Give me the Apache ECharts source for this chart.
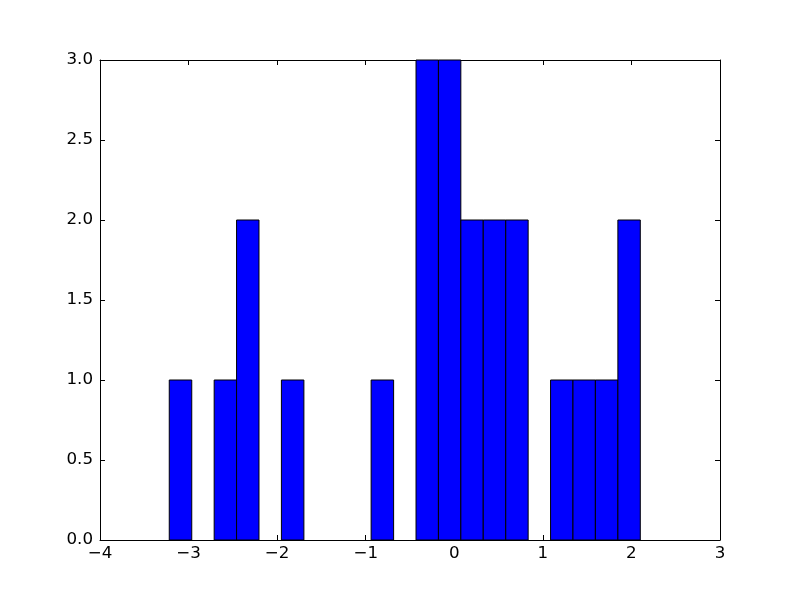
<!DOCTYPE html>
<html>
<head>
<meta charset="utf-8">
<script src="https://cdn.jsdelivr.net/npm/echarts@6/dist/echarts.min.js"></script>
<style>
html,body{margin:0;padding:0;background:#fff;}
#c{width:800px;height:600px;}
</style>
</head>
<body>
<div id="c"></div>
<script>
// Histogram bin edges (21 bins)
const binEdges = [-3.218, -2.964, -2.711, -2.458, -2.205, -1.952, -1.698, -1.445, -1.192, -0.939, -0.685,
                  -0.432, -0.179, 0.074, 0.327, 0.581, 0.834, 1.087, 1.340, 1.593, 1.847, 2.100];
// Counts per bin
const counts = [1, 0, 1, 2, 0, 1, 0, 0, 0, 1, 0, 3, 3, 2, 2, 2, 0, 1, 1, 1, 2];
// Axis ranges / ticks
const xTicks = [-4, -3, -2, -1, 0, 1, 2, 3];
const yTicks = [0.0, 0.5, 1.0, 1.5, 2.0, 2.5, 3.0];

const data = counts.map((c, i) => [binEdges[i], binEdges[i + 1], c]);

const font = 'DejaVu Sans';
const fs = 16.7;
const fmtX = v => String(v).replace('-', '\u2212');
const fmtY = v => v.toFixed(1);

const common = {
  axisLine: { show: true, onZero: false, lineStyle: { color: '#000', width: 1 } },
  axisTick: { show: true, inside: true, length: 5, lineStyle: { color: '#000', width: 1 } },
  splitLine: { show: false }
};

const chart = echarts.init(document.getElementById('c'), null, { renderer: 'canvas' });
chart.setOption({
  animation: false,
  backgroundColor: '#fff',
  grid: { left: 100, right: 80, top: 60, bottom: 60, containLabel: false },
  xAxis: [
    Object.assign({
      type: 'value', position: 'bottom',
      min: xTicks[0], max: xTicks[xTicks.length - 1], interval: 1,
      axisLabel: { show: true, color: '#000', fontFamily: font, fontSize: fs, margin: 5, formatter: fmtX }
    }, common),
    Object.assign({
      type: 'value', position: 'top',
      min: xTicks[0], max: xTicks[xTicks.length - 1], interval: 1,
      axisLabel: { show: false }
    }, common)
  ],
  yAxis: [
    Object.assign({
      type: 'value', position: 'left',
      min: yTicks[0], max: yTicks[yTicks.length - 1], interval: 0.5,
      axisLabel: { show: true, color: '#000', fontFamily: font, fontSize: fs, margin: 7, formatter: fmtY }
    }, common),
    Object.assign({
      type: 'value', position: 'right',
      min: yTicks[0], max: yTicks[yTicks.length - 1], interval: 0.5,
      axisLabel: { show: false }
    }, common)
  ],
  series: [{
    type: 'custom',
    xAxisIndex: 0, yAxisIndex: 0,
    data: data,
    clip: false,
    renderItem: function (params, api) {
      const c = api.value(2);
      if (!c) return null;
      const p0 = api.coord([api.value(0), c]);
      const p1 = api.coord([api.value(1), 0]);
      return {
        type: 'rect',
        shape: { x: p0[0], y: p0[1], width: p1[0] - p0[0], height: p1[1] - p0[1] },
        style: { fill: '#0000ff', stroke: '#000', lineWidth: 1 }
      };
    }
  }]
});
</script>
</body>
</html>
